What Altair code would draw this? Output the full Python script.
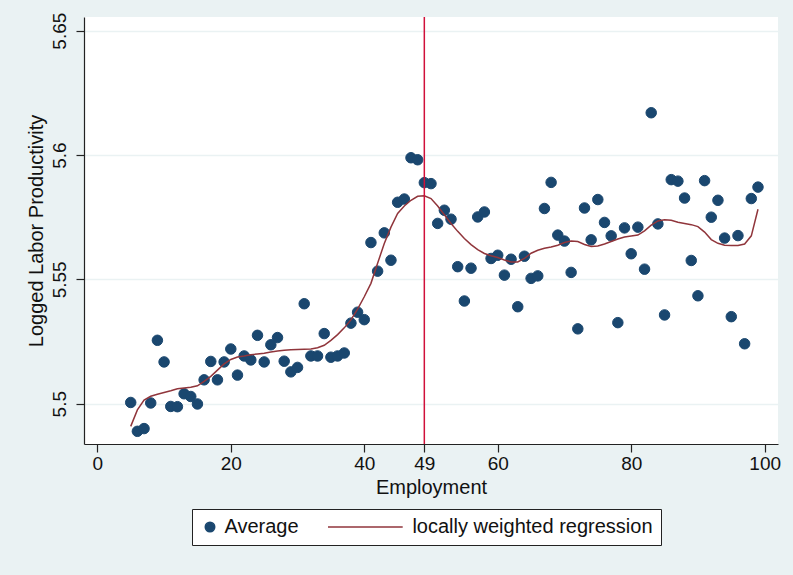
import altair as alt
import pandas as pd

# ---- data ----
employment = list(range(5, 100))
average = [
    5.5005, 5.4889, 5.4900, 5.5003, 5.5255, 5.5168, 5.4989, 5.4988, 5.5040, 5.5029,
    5.4999, 5.5096, 5.5170, 5.5096, 5.5168, 5.5220, 5.5115, 5.5192, 5.5176, 5.5275,
    5.5168, 5.5237, 5.5266, 5.5171, 5.5128, 5.5146, 5.5402, 5.5192, 5.5192, 5.5282,
    5.5187, 5.5192, 5.5204, 5.5324, 5.5368, 5.5338, 5.5648, 5.5533, 5.5687, 5.5577,
    5.5810, 5.5823, 5.5989, 5.5981, 5.5889, 5.5885, 5.5725, 5.5778, 5.5742, 5.5551,
    5.5413, 5.5545, 5.5751, 5.5771, 5.5584, 5.5597, 5.5517, 5.5581, 5.5390, 5.5593,
    5.5504, 5.5514, 5.5785, 5.5890, 5.5678, 5.5654, 5.5528, 5.5301, 5.5787, 5.5659,
    5.5821, 5.5729, 5.5675, 5.5326, 5.5707, 5.5603, 5.5710, 5.5541, 5.6170, 5.5723,
    5.5357, 5.5901, 5.5895, 5.5827, 5.5576, 5.5434, 5.5897, 5.5750, 5.5818, 5.5666,
    5.5350, 5.5676, 5.5241, 5.5825, 5.5871,
]
lowess = [
    5.4909, 5.4975, 5.5015, 5.5030, 5.5038, 5.5045, 5.5052, 5.5060, 5.5063, 5.5066,
    5.5072, 5.5090, 5.5110, 5.5135, 5.5160, 5.5178, 5.5188, 5.5192, 5.5197, 5.5200,
    5.5203, 5.5208, 5.5212, 5.5215, 5.5217, 5.5218, 5.5219, 5.5220, 5.5225, 5.5235,
    5.5255, 5.5278, 5.5305, 5.5337, 5.5380, 5.5430, 5.5484, 5.5565, 5.5644, 5.5710,
    5.5765, 5.5795, 5.5818, 5.5834, 5.5836, 5.5825, 5.5795, 5.5760, 5.5725, 5.5693,
    5.5664, 5.5640, 5.5620, 5.5604, 5.5595, 5.5588, 5.5578, 5.5570, 5.5570, 5.5584,
    5.5605, 5.5617, 5.5625, 5.5630, 5.5637, 5.5648, 5.5654, 5.5652, 5.5640, 5.5632,
    5.5634, 5.5642, 5.5652, 5.5662, 5.5670, 5.5674, 5.5678, 5.5695, 5.5718, 5.5735,
    5.5740, 5.5738, 5.5730, 5.5725, 5.5720, 5.5712, 5.5690, 5.5660, 5.5645, 5.5637,
    5.5636, 5.5636, 5.5642, 5.5675, 5.5782,
]
cutoff = [49]
x_ticks = [0, 20, 40, 49, 60, 80, 100]
y_ticks = [5.5, 5.55, 5.6, 5.65]
series = ["Average", "locally weighted regression"]

# ---- styling ----
NAVY = "#1a476f"
MAROON = "#90353b"
RED = "#d0103a"
BG = "#eaf2f3"
FONT = "Liberation Sans"

df_pts = pd.DataFrame({"emp": employment, "avg": average, "series": series[0]})
df_low = pd.DataFrame({"emp": employment, "low": lowess})
df_cut = pd.DataFrame({"cut": cutoff})

xscale = alt.Scale(domain=[-2, 102], nice=False, zero=False)
yscale = alt.Scale(domain=[5.4838, 5.6555], nice=False, zero=False)

xaxis = alt.Axis(values=x_ticks, format="d", title="Employment", grid=False,
                 tickSize=8, labelPadding=2, titlePadding=4)
yaxis = alt.Axis(values=y_ticks, format="~g", title="Logged Labor Productivity",
                 grid=True, tickSize=8, labelAngle=270, labelAlign="center",
                 labelBaseline="alphabetic", labelPadding=11, titlePadding=4)

SYM = 90
r = (SYM ** 0.5) / 2
line_path = f"M{-70 / r:.3f},0H{4.7 / r:.3f}"

leg = alt.Legend(title=None, orient="none", legendX=108, legendY=492,
                 columns=2, columnPadding=26, padding=8,
                 strokeColor="#222", fillColor="white",
                 labelFontSize=20, labelFont=FONT, labelColor="#111",
                 labelOffset=4.4, symbolSize=SYM, symbolStrokeWidth=1.5,
                 symbolOpacity=1, labelLimit=400)

cscale = alt.Scale(domain=series, range=[NAVY, MAROON])
sscale = alt.Scale(domain=series, range=["circle", line_path])

points = alt.Chart(df_pts).mark_point(filled=True, size=110, strokeWidth=1, opacity=1).encode(
    x=alt.X("emp:Q", scale=xscale, axis=xaxis),
    y=alt.Y("avg:Q", scale=yscale, axis=yaxis),
    fill=alt.Fill("series:N", scale=cscale, legend=leg),
    stroke=alt.Stroke("series:N", scale=cscale, legend=leg),
    shape=alt.Shape("series:N", scale=sscale, legend=leg),
)

line = alt.Chart(df_low).mark_line(color=MAROON, strokeWidth=1.5).encode(
    x=alt.X("emp:Q", scale=xscale),
    y=alt.Y("low:Q", scale=yscale),
)

rule = alt.Chart(df_cut).mark_rule(color=RED, strokeWidth=1.5).encode(
    x=alt.X("cut:Q", scale=xscale),
)

chart = alt.layer(points, line, rule).properties(
    width=694, height=427,
    autosize=alt.AutoSizeParams(type="none"),
    padding={"left": 84, "top": 17, "right": 15, "bottom": 131},
    background=BG,
).configure_view(
    fill="white", stroke=None,
).configure_axis(
    domainColor="#222", tickColor="#222", domainWidth=1.2, tickWidth=1.2,
    gridColor=BG, gridWidth=1.5,
    labelFont=FONT, labelFontSize=19, labelColor="#111",
    titleFont=FONT, titleFontSize=20, titleColor="#111", titleFontWeight="normal",
)

chart.save("out.html", embed_options={"renderer": "svg", "actions": False})
